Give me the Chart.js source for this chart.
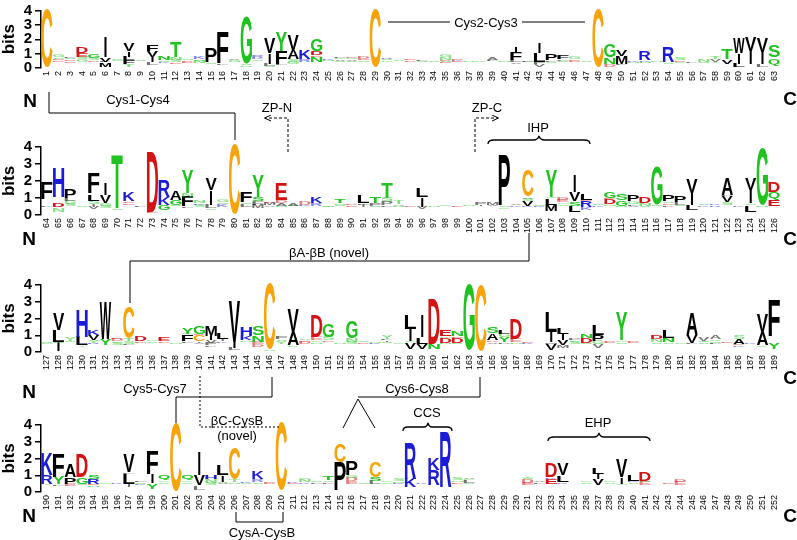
<!DOCTYPE html>
<html>
<head>
<meta charset="utf-8">
<script src="https://cdn.jsdelivr.net/npm/chart.js@4.4.1/dist/chart.umd.min.js"></script>
<style>
    body { margin: 0; background: #fff; }
    #wrap { position: relative; width: 797px; height: 540px; overflow: hidden; }
    #wrap canvas { position: absolute; left: 0; }
    #notes { position: absolute; left: 0; top: 0; font-family: 'Liberation Sans', Arial, sans-serif; }
</style>
</head>
<body>
<div id="wrap">
    <canvas id="row1" width="797" height="92" style="top:0px"></canvas>
    <canvas id="row2" width="797" height="104" style="top:135px"></canvas>
    <canvas id="row3" width="797" height="103" style="top:273px"></canvas>
    <canvas id="row4" width="797" height="103" style="top:413px"></canvas>

    <!-- annotations (disulfide links, domains) -->
    <svg id="notes" width="797" height="540">
        <defs>
            <marker id="arr" markerWidth="7" markerHeight="7" refX="6" refY="3.5" orient="auto">
                <path d="M0,0.5 L6.5,3.5 L0,6.5" fill="none" stroke="#000" stroke-width="1"/>
            </marker>
        </defs>
        <g fill="none" stroke="#000" stroke-width="1">
            <path d="M388,22 H450 M522,22 H585"/>
            <path d="M49,92 V113 H235 V140"/>
            <path d="M288,152 V118 H265" stroke-dasharray="3,2" marker-end="url(#arr)"/>
            <path d="M475,152 V118 H498" stroke-dasharray="3,2" marker-end="url(#arr)"/>
            <path d="M488,144 Q488,140 494,140 L533,140 Q538,140 539,136 Q540,140 545,140 L584,140 Q590,140 590,144" stroke-width="1.3"/>
            <path d="M529,233 V261 H130 V303"/>
            <path d="M272,377 V397 H176 V423"/>
            <path d="M200,376 V427 H279" stroke-dasharray="2,2"/>
            <path d="M480,377 V397 H358 M343,428 L358,399 L375,428"/>
            <path d="M403,431 Q403,427 408,427 L424,427 Q427,427 428,423 Q429,427 432,427 L447,427 Q452,427 452,431" stroke-width="1.3"/>
            <path d="M548,441 Q548,437 554,437 L594,437 Q598,437 599,433 Q600,437 604,437 L644,437 Q650,437 650,441" stroke-width="1.3"/>
            <path d="M236,512 V522 H283 V512"/>
        </g>
        <g font-size="13" text-anchor="middle" fill="#000">
            <text x="486" y="26.5">Cys2-Cys3</text>
            <text x="138" y="103.5">Cys1-Cys4</text>
            <text x="277" y="111.5">ZP-N</text>
            <text x="487" y="111.5">ZP-C</text>
            <text x="538" y="132">IHP</text>
            <text x="329" y="256.5">βA-βB (novel)</text>
            <text x="155" y="392.5">Cys5-Cys7</text>
            <text x="417" y="392.5">Cys6-Cys8</text>
            <text x="237" y="424.5">βC-CysB</text>
            <text x="237" y="439.5">(novel)</text>
            <text x="427" y="416.5">CCS</text>
            <text x="598" y="426.5">EHP</text>
            <text x="262" y="537">CysA-CysB</text>
        </g>
        <g font-size="19" font-weight="bold" text-anchor="middle" fill="#000">
            <text x="30" y="107">N</text><text x="790" y="105">C</text>
            <text x="29" y="245">N</text><text x="790" y="245">C</text>
            <text x="29" y="398">N</text><text x="790" y="384">C</text>
            <text x="29" y="522">N</text><text x="790" y="522">C</text>
        </g>
    </svg>
</div>

<script>
// --- Logo data ---
// each entry = one position, letters from bottom to top with height in bits
// '-' is empty space (letters too thin to see)
const row1Stacks = [
    'C4.1', '-.45 D.08 E.08 S.12 G.15', '-.35 E.12 D.12 S.1 L.08', '-.45 G.15 S.15 E.3 D.45', '-.45 D.1 S.15 G.25',
    '-.1 M.3 L.05 V.3 I1.4', '-.5 G.08 S.06', '-.05 T.2 F.3 L.25 I.35 V.55', '-.5 S.05', '-.2 L.2 I.35 V.4 F.45',
    '-.35 K.08 S.1 N.25', '-.3 E.1 S.15 N.2 T1.05', '-.35 D.1 E.1 S.1', '-.35 N.15 S.1 K.2', '-.3 S.1 P.95',
    '-.2 L.1 F2.2', '-.4 N.08 G.08 V.05', '-.1 N.08 S.1 G3.25', '-.5 S.1 K.12 R.2', '-.05 S.1 L.15 I.75 V1.1',
    '-.2 L.1 F.9 Y1.3', '-.3 G.15 S.15 A.65 V1.05', '-.45 R.15 K.65', '-.45 N.35 E.1 D.3 G.85', '-.5 N.05 K.08',
    '-.4 S.1 V.12 G.1 F.1', '-.4 S.1 V.1 G.08 D.12', '-.45 S.08 E.12 D.15', 'C4.05', '-.45 G.08 S.1 R.12',
    '-.5 S.04', '-.45 D.08 E.06', '-.45 S.06 L.06', '-.45 S.04', '-.35 E.06 S.1 D.06 N.2 G.18',
    '-.4 E.06 K.08 D.06', '-.45 N.04', '-.45 G.04', '-.5 L.08 A.2', '-.45 N.04',
    '-.3 V.1 L.15 F.5 I.45', '-.4 S.05 F.05', '-.05 V.2 F.15 L.65 I.75', '-.35 S.1 L.1 P.45', '-.4 S.1 L.1 F.3',
    '-.4 D.1 E.1 G.2', '-.45 S.04', 'C4.05', 'D.2 -.1 N.45 G.95', '-.2 L.1 M.55 V.4',
    '-.35 N.05 K.12', '-.35 N.1 K.1 R.65', '-.45 N.05', '-.3 S.1 R1.05', '-.35 G.1 D.1 S.15',
    '-.35 L.08', '-.35 S.1 N.2', '-.35 Y.1 V.2 T.2', '-.3 V.3 T.75', 'L.3 I.75 W1.05',
    '-.3 I.85 V.95', '-.1 L.15 I.85 V.95', '-.2 Q.4 -.15 S.85'
];

const row2Stacks = [
    '-.5 L.1 -.3 F.95', '-.2 N.2 -.1 D.25 -.3 H1.75', '-.5 S.15 G.2 L.15 P.5', '-.45 S.05', '-.35 V.15 I.15 S.2 L.4 F1.2',
    '-.4 S.15 G.15 V.45 I.7', '-.3 S.1 T3.15', '-.6 E.1 D.1 K.5', '-.45 L.05', '-.1 E.1 D3.55',
    '-.3 G.3 K.47 R1.0', '-.5 S.1 G.3 A.55', '-.4 L.1 F.57 N.2 Y1.35', '-.45 S.15 K.1 N.15', '-.3 S.1 L.2 I.85 V.7',
    '-.5 K.15 S.1 G.15', 'C4.15', '-.5 L.15 S.1 F.6', '-.4 M.2 F.2 S.25 Y1.3', '-.5 A.1 M.12 D.05',
    '-.45 N.1 A.15 D.18 E.97', '-.5 S.05 A.12', '-.55 K.05 D.2', '-.55 R.15 K.35', '-.45 N.05 T.1',
    '-.5 S.1 N.1 T.25', '-.5 E.06 D.08', '-.45 I.15 P.1 L.45', '-.45 S.1 P.15 T.35', '-.5 L.1 P.2 S.2 T.9',
    '-.45 N.1 A.1 T.2', '-.45 E.04', '-.35 V.15 I.55 L.5', '-.5 N.04', '-.5 G.04',
    '-.5 E.04', '-.55 N.04', '-.55 I.05 P.12', '-.55 V.06 M.15', '-.35 G.1 S.1 P2.95',
    '-.5 K.06 V.08', '-.5 K.05 V.3 S.12 A.1 C1.55', '-.45 K.1 S.05', '-.25 M.35 L.4 S.05 Y1.55', '-.55 S.1 G.1 E.15 D.12',
    '-.2 L.35 S.25 V.55 I.95', '-.3 K.15 -.05 R.35 E.05 L.4', '-.5 K.08 S.08', '-.55 N.1 D.3 E.05 G.35', '-.45 N.1 G.3 S.35',
    '-.45 V.1 L.1 G.15 P.4', '-.45 S.1 N.15 D.35', '-.5 S.1 G2.25', '-.5 L.1 D.1 S.1 P.35', '-.5 S.1 L.15 P.35',
    '-.3 L.3 I.7 V.8', '-.5 K.08 S.08', '-.5 R.06 K.1', '-.6 S.15 V.35 L.07 A1.0', '-.5 K.08',
    '-.2 L.4 S.1 I.8 V.7', '-.5 N.1 G3.3', '-.55 E.35 Q.45 D.6'
];

const row3Stacks = [
    '-.5 G.06 S.08', '-.05 I.5 S.05 L.7 V1.0', '-.6 S.05 Y.2', '-.3 Y.1 L.5 H1.6', '-.45 R.1 Y.15 V.3 K.3',
    '-.4 Y.4 W2.2', '-.4 S.15 G.1 D.15 E.1', '-.4 L.1 S.15 T.15 C1.9', '-.55 E.1 D.3', '-.55 S.1 G.1',
    '-.55 D.1 E.25', '-.5 N.04', '-.55 L.1 F.4 G.05 Y.4', '-.45 V.1 I.1 C.35 D.05 G.45', '-.3 L.1 F.15 V.15 I.25 M.65',
    '-.55 K.1 I.15 L.35', '-.1 L.15 I.35 V2.4', '-.6 N.1 K.25 H.55', '-.3 D.15 E.15 N.4 S.55', 'S.1 -.1 C3.9',
    '-.5 Y.15 S.1 F.12', '-.3 G.1 A.8 V1.35', '-.45 D.15 E.1 S.1', '-.5 N.1 G.1 E.2 D1.3', '-.6 D.1 S.2 G.8',
    '-.5 N.04', '-.45 S.15 N.2 G1.05', '-.5 D.08 S.06', '-.5 K.06 N.06', '-.55 S.05 I.1 L.1 Y.2',
    '-.5 G.04', '-.2 V.4 G.05 I.75 L.8', '-.2 V.3 L.4 I1.3', '-.2 N.3 D2.7', '-.45 N.1 D.3 G.1 E.35',
    '-.45 S.1 D.3 E.1 N.3', '-.1 G3.9', 'C4.0', '-.5 V.1 D.1 A.4 S.35', '-.5 P.1 Y.3 G.2 L.25',
    '-.5 N.1 E.2 D1.2', '-.5 K.05 E.1', '-.5 N.03', '-.1 V.4 M.1 I.6 L1.2', '-.25 M.15 V.3 I.35 L.35',
    '-.45 S.15 G.1 L.1 P.1', '-.45 S.1 D.3 N.25', '-.25 V.2 G.2 P.35 L.6', '-.55 E.05 D.1', '-.5 S.1 G.1 Y1.7',
    '-.55 E.06 D.1', '-.5 N.03', '-.5 S.1 N.15 D.25', '-.5 S.1 N.25 L.45', '-.5 G.04',
    '-.45 L.1 V.45 A1.3', '-.45 S.1 Q.1 V.2', '-.45 L.1 S.1 G.1 A.2', '-.55 E.1', '-.3 K.1 E.1 A.3 S.2',
    '-.5 K.08', '-.3 G.1 A.8 V1.1', '-.2 Y.35 -.35 F2.2'
];

const row4Stacks = [
    '-.4 Y.1 R.5 K1.3', '-.35 L.1 Y.45 F1.4', '-.35 E.15 P.4 A.8', '-.4 S.1 G.4 D1.4', '-.3 N.1 E.1 R.3 S.25',
    '-.5 G.05', '-.5 K.04', '-.3 I.15 S.05 L.6 F.1 V1.1', '-.4 K.1 S.1 L.1', '-.2 Y.3 -.05 I.5 F1.35',
    '-.5 S.1 G.1 Q.3', 'C4.1', '-.5 S.1 G.1 Q.25', '-.1 L.2 -.1 V.6 I1.4', '-.4 S.15 N.2 H.25',
    '-.45 V.1 S.05 I.4 L.6', '-.5 N.1 T.15 C1.85', '-.5 S.05 K.05', '-.5 S.1 R.15 K.45', '-.45 D.1 E.1',
    '-.1 C4.1', '-.5 E.05 K.05', '-.5 K.1 N.15 G.1', '-.5 L.1 S.1', '-.5 L.1 S.1 T.25',
    '-.1 P1.7 C1.1', '-.5 E.15 D.2 G.15 P.85', '-.5 S.04', '-.45 L.2 S.25 C.9', '-.5 S.1 G.05',
    '-.45 K.1 N.1 S.15', '-.3 K.5 R2.1', '-.5 K.08', '-.4 R.9 K.7', '-.3 R3.3',
    '-.5 E.1 N.1 S.15', '-.45 S.1 L.15 G.1 A.1', '', '', '',
    '', '-.4 E.15 D.2 S.1 T.1', '-.5 L.1 V.1', '-.5 E.3 K.1 D.8', '-.5 K.1 L.4 V.7',
    '', '-.5 S.1 G.1', '-.4 V.35 I.35 L.4', '-.5 S.1 G.08', '-.4 G.1 I.4 V1.1',
    '-.5 S.1 K.05 L.35', '-.4 E.2 S.05 D.55', '-.5 E.03', '-.45 E.1', '-.4 E.2 D.15',
    '', '', '', '', '', '', '', ''
];

const yTicks = [0, 1, 2, 3, 4];

// residue colours
const letterColors = {
    C: '#f6a30c',
    G: '#1fc21f', S: '#1fc21f', T: '#1fc21f', Y: '#1fc21f', N: '#1fc21f', Q: '#1fc21f',
    K: '#1c1cd6', R: '#1c1cd6', H: '#1c1cd6',
    D: '#d41414', E: '#d41414'
};

const FONT = "'Liberation Sans', Arial, Helvetica, sans-serif";
const GLYPH_FONT = "bold 100px " + FONT;

function parseStack(spec) {
    if (!spec) return [];
    return spec.split(' ').map(t => ({ ch: t[0], h: parseFloat(t.slice(1)) }));
}

// --- Glyph drawing ---
const glyphCache = {};
function glyphBox(ctx, ch) {
    if (!glyphCache[ch]) {
        ctx.save();
        ctx.font = GLYPH_FONT;
        const m = ctx.measureText(ch);
        glyphCache[ch] = {
            l: m.actualBoundingBoxLeft, r: m.actualBoundingBoxRight,
            a: m.actualBoundingBoxAscent, d: m.actualBoundingBoxDescent
        };
        ctx.restore();
    }
    return glyphCache[ch];
}

function drawGlyph(ctx, ch, x, y, w, h) {
    const g = glyphBox(ctx, ch);
    if (ch === 'I') { // I stays a thin stroke, like the original logo
        const iw = Math.max(1.2, w * 0.2);
        x += (w - iw) / 2;
        w = iw;
    }
    ctx.save();
    ctx.font = GLYPH_FONT;
    ctx.textAlign = 'left';
    ctx.textBaseline = 'alphabetic';
    ctx.fillStyle = letterColors[ch] || '#000';
    // squashed letters look washed out in the original
    if (h < 3.5) ctx.globalAlpha = 0.55;
    ctx.translate(x, y);
    ctx.scale(w / (g.l + g.r), h / (g.a + g.d));
    ctx.fillText(ch, g.l, g.a);
    ctx.restore();
}

const logoLetters = {
    id: 'logoLetters',
    afterDatasetsDraw(chart) {
        const ctx = chart.ctx;
        chart.data.datasets.forEach((ds, j) => {
            const meta = chart.getDatasetMeta(j);
            meta.data.forEach((bar, i) => {
                const ch = ds.letters[i];
                if (!ch || ch === '-') return;
                const top = Math.min(bar.y, bar.base);
                const h = Math.abs(bar.base - bar.y);
                if (h < 0.35) return;
                drawGlyph(ctx, ch, bar.x - bar.width / 2, top, bar.width, h);
            });
        });
    }
};

// --- Build one chart per row ---
function buildRow(canvasId, stackSpecs, firstPos, padTop) {
    const stacks = stackSpecs.map(parseStack);
    const depth = Math.max(...stacks.map(s => s.length));
    const labels = stackSpecs.map((_, i) => String(firstPos + i));

    const datasets = [];
    for (let j = 0; j < depth; j++) {
        datasets.push({
            data: stacks.map(s => (s[j] ? s[j].h : 0)),
            letters: stacks.map(s => (s[j] ? s[j].ch : '')),
            backgroundColor: 'rgba(0,0,0,0)',
            borderWidth: 0,
            barPercentage: 1,
            categoryPercentage: 0.97
        });
    }

    return new Chart(document.getElementById(canvasId), {
        type: 'bar',
        data: { labels, datasets },
        options: {
            responsive: false,
            animation: false,
            events: [],
            layout: { padding: { top: padTop, right: 17, left: 0, bottom: 0 } },
            plugins: { legend: { display: false }, tooltip: { enabled: false } },
            scales: {
                x: {
                    stacked: true,
                    grid: { display: false, drawTicks: false },
                    border: { display: false },
                    ticks: {
                        autoSkip: false, maxRotation: 90, minRotation: 90, padding: 3,
                        color: '#000', font: { size: 9, family: FONT }
                    },
                    afterFit: s => { s.height = 24; }
                },
                y: {
                    stacked: true,
                    min: yTicks[0],
                    max: yTicks[yTicks.length - 1],
                    afterBuildTicks: s => { s.ticks = yTicks.map(v => ({ value: v })); },
                    ticks: {
                        autoSkip: false, color: '#000', padding: 3,
                        font: { size: 15, weight: 'bold', family: FONT, lineHeight: 1 }
                    },
                    grid: { drawOnChartArea: false, drawTicks: true, tickLength: 6, color: '#000', lineWidth: 1.5 },
                    border: { display: true, color: '#000', width: 1.5 },
                    title: {
                        display: true, text: 'bits', color: '#000', padding: 0,
                        font: { size: 17, weight: 'bold', family: FONT, lineHeight: 1.1 }
                    },
                    afterFit: s => { s.width = 41; }
                }
            }
        },
        plugins: [logoLetters]
    });
}

buildRow('row1', row1Stacks, 1, 5);
buildRow('row2', row2Stacks, 64, 12);
buildRow('row3', row3Stacks, 127, 12);
buildRow('row4', row4Stacks, 190, 12);
</script>
</body>
</html>
